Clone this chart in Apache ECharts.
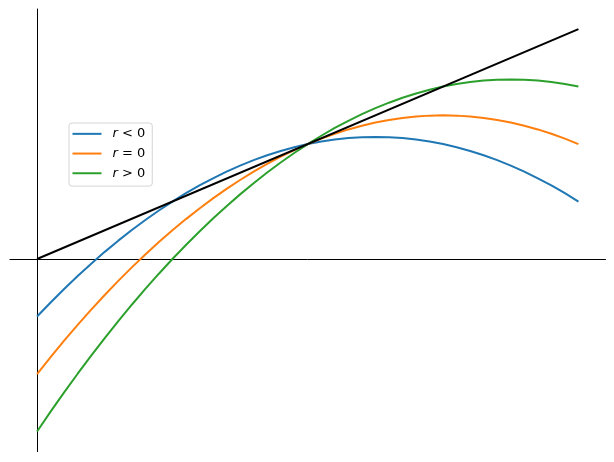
<!DOCTYPE html>
<html>
<head>
<meta charset="utf-8">
<script src="https://cdn.jsdelivr.net/npm/echarts@6/dist/echarts.min.js"></script>
<style>
html,body{margin:0;padding:0;background:#fff;}
#chart{width:614px;height:462px;}
</style>
</head>
<body>
<div id="chart"></div>
<script>
var xValues = [0,0.05,0.1,0.15,0.2,0.25,0.3,0.35,0.4,0.45,0.5,0.55,0.6,0.65,0.7,0.75,0.8,0.85,0.9,0.95,1,1.05,1.1,1.15,1.2,1.25,1.3,1.35,1.4,1.45,1.5,1.55,1.6,1.65,1.7,1.75,1.8,1.85,1.9,1.95,2];
var rNeg = [-0.5,-0.3775,-0.26,-0.1475,-0.04,0.0625,0.16,0.2525,0.34,0.4225,0.5,0.5725,0.64,0.7025,0.76,0.8125,0.86,0.9025,0.94,0.9725,1,1.0225,1.04,1.0525,1.06,1.0625,1.06,1.0525,1.04,1.0225,1.0,0.9725,0.94,0.9025,0.86,0.8125,0.76,0.7025,0.64,0.5725,0.5];
var rZero = [-1,-0.8525,-0.71,-0.5725,-0.44,-0.3125,-0.19,-0.0725,0.04,0.1475,0.25,0.3475,0.44,0.5275,0.61,0.6875,0.76,0.8275,0.89,0.9475,1,1.0475,1.09,1.1275,1.16,1.1875,1.21,1.2275,1.24,1.2475,1.25,1.2475,1.24,1.2275,1.21,1.1875,1.16,1.1275,1.09,1.0475,1];
var rPos = [-1.5,-1.3275,-1.16,-0.9975,-0.84,-0.6875,-0.54,-0.3975,-0.26,-0.1275,0,0.1225,0.24,0.3525,0.46,0.5625,0.66,0.7525,0.84,0.9225,1,1.0725,1.14,1.2025,1.26,1.3125,1.36,1.4025,1.44,1.4725,1.5,1.5225,1.54,1.5525,1.56,1.5625,1.56,1.5525,1.54,1.5225,1.5];
var lineX = [0, 2];
var lineY = [0, 2];
var seriesNames = ['r < 0', 'r = 0', 'r > 0'];

function pairs(xs, ys) { return xs.map(function (x, i) { return [x, ys[i]]; }); }

var chart = echarts.init(document.getElementById('chart'));
var axisCommon = {
  type: 'value',
  axisLine: { show: true, onZero: true, lineStyle: { color: '#000', width: 1 } },
  axisTick: { show: false },
  axisLabel: { show: false },
  splitLine: { show: false }
};
chart.setOption({
  animation: false,
  backgroundColor: '#fff',
  grid: { left: 10, right: 8.5, top: 9, bottom: 10.4, containLabel: false },
  xAxis: Object.assign({}, axisCommon, { min: -0.1, max: 2.1 }),
  yAxis: Object.assign({}, axisCommon, { min: -1.675, max: 2.175 }),
  legend: {
    orient: 'vertical',
    left: 69,
    top: 123,
    data: seriesNames,
    icon: 'rect',
    itemWidth: 29,
    itemHeight: 2,
    itemGap: 0,
    padding: [1, 7, 3, 3.5],
    borderColor: '#d5d5d5',
    borderWidth: 1,
    borderRadius: 3,
    backgroundColor: 'rgba(255,255,255,0.8)',
    formatter: function (name) {
      var parts = name.split(' ');
      return '{i|' + parts[0] + '} ' + parts[1] + ' ' + parts[2];
    },
    textStyle: {
      color: '#000',
      fontFamily: 'DejaVu Sans',
      fontSize: 13,
      lineHeight: 19.7,
      padding: [0, 0, 0, 6],
      rich: {
        i: { fontStyle: 'italic', fontFamily: 'DejaVu Sans', fontSize: 13, color: '#000', lineHeight: 19.7 }
      }
    }
  },
  series: [
    { name: seriesNames[0], type: 'line', data: pairs(xValues, rNeg), showSymbol: false, color: '#1f77b4', lineStyle: { width: 2, color: '#1f77b4' } },
    { name: seriesNames[1], type: 'line', data: pairs(xValues, rZero), showSymbol: false, color: '#ff7f0e', lineStyle: { width: 2, color: '#ff7f0e' } },
    { name: seriesNames[2], type: 'line', data: pairs(xValues, rPos), showSymbol: false, color: '#2ca02c', lineStyle: { width: 2, color: '#2ca02c' } },
    { name: 'line', type: 'line', data: pairs(lineX, lineY), showSymbol: false, color: '#000', lineStyle: { width: 2, color: '#000' } }
  ]
});
</script>
</body>
</html>
